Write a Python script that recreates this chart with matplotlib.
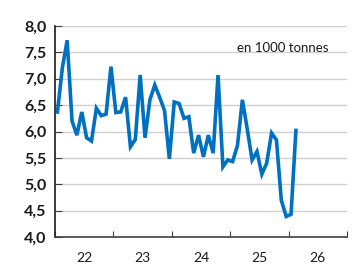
import numpy as np
import matplotlib
matplotlib.use("Agg")
import matplotlib.pyplot as plt
from matplotlib.ticker import FixedLocator, NullFormatter

# monthly values, jan 2022 onwards (in 1000 tonnes)
values = [6.37, 7.20, 7.73, 6.20, 5.93, 6.37, 5.88, 5.82, 6.44, 6.30,
          6.33, 7.23, 6.36, 6.37, 6.65, 5.71, 5.85, 7.07, 5.88, 6.60,
          6.88, 6.65, 6.40, 5.48, 6.56, 6.53, 6.25, 6.28, 5.59, 5.93,
          5.52, 5.93, 5.59, 7.07, 5.33, 5.46, 5.43, 5.74, 6.60, 6.05,
          5.46, 5.62, 5.19, 5.40, 5.97, 5.84, 4.70, 4.39, 4.43, 6.02]
year_labels = ["22", "23", "24", "25", "26"]
y_ticks = [4.0, 4.5, 5.0, 5.5, 6.0, 6.5, 7.0, 7.5, 8.0]

plt.rcParams['font.family'] = ['Lato', 'DejaVu Sans']

fig = plt.figure(figsize=(3.52, 2.65), dpi=100)
ax = fig.add_axes([55/352, 1 - 237/265, 292/352, 211/265])

x = np.arange(len(values))
ax.plot(x, values, color='#0070C0', linewidth=2.6, solid_joinstyle='miter')

ax.set_xlim(-0.5, 59.5)
ax.set_ylim(4.0, 8.0)

ax.set_yticks(y_ticks)
ax.set_yticklabels([f"{v:.1f}".replace('.', ',') for v in y_ticks],
                   fontweight='bold', fontsize=11.5, color='#1a1a1a')
ax.grid(axis='y', color='#d0d0d0', linewidth=1.0)
ax.set_axisbelow(True)

# year boundaries as ticks, labels centered between them
ax.xaxis.set_major_locator(FixedLocator([-0.5 + 12 * i for i in range(6)]))
ax.xaxis.set_major_formatter(NullFormatter())
ax.xaxis.set_minor_locator(FixedLocator([5.5 + 12 * i for i in range(5)]))
ax.set_xticklabels(year_labels, minor=True, fontsize=10, color='#1a1a1a')
ax.tick_params(axis='x', which='major', direction='in', length=4, color='#404040')
ax.tick_params(axis='x', which='minor', length=0, pad=11)
ax.tick_params(axis='y', direction='in', length=5, color='#404040', pad=6)

for s in ['top', 'right']:
    ax.spines[s].set_visible(False)
ax.spines['left'].set_color('#1a1a1a')
ax.spines['bottom'].set_color('#404040')
ax.spines['left'].set_linewidth(1.2)
ax.spines['bottom'].set_linewidth(1.2)

ax.text(0.78, 0.895, "en 1000 tonnes", transform=ax.transAxes,
        ha='center', va='center', fontsize=9.5, color='#1a1a1a')

fig.savefig("out.png", dpi=100)
